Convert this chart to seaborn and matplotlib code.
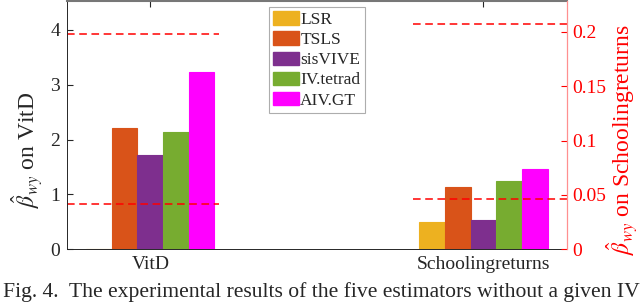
import matplotlib
matplotlib.use("Agg")
import matplotlib.pyplot as plt
from matplotlib.patches import Patch
import seaborn as sns
import pandas as pd

# data
datasets = ["VitD", "Schoolingreturns"]
estimators = ["LSR", "TSLS", "sisVIVE", "IV.tetrad", "AIV.GT"]
colors = ["#EDB120", "#D95319", "#7E2F8E", "#77AC30", "#FF00FF"]
vitd_vals = [0.0, 2.22, 1.71, 2.14, 3.24]
school_vals = [0.025, 0.057, 0.027, 0.063, 0.074]
vitd_bounds = [0.83, 3.92]
school_bounds = [0.046, 0.207]
caption = "Fig. 4.  The experimental results of the five estimators without a given IV"

sns.set_style("white")
plt.rcParams["font.family"] = ["Liberation Serif", "DejaVu Serif"]
plt.rcParams["mathtext.fontset"] = "stix"

df_vitd = pd.DataFrame({"dataset": "VitD", "estimator": estimators, "value": vitd_vals})
df_school = pd.DataFrame({"dataset": "Schoolingreturns", "estimator": estimators, "value": school_vals})

fig = plt.figure(figsize=(6.4, 3.08), dpi=100)
ax = fig.add_axes([67 / 640, 1 - 249.3 / 308, 499.7 / 640, 248.5 / 308])

sns.barplot(data=df_vitd, x="dataset", y="value", hue="estimator", order=datasets,
            hue_order=estimators, palette=colors, width=0.385, saturation=1,
            errorbar=None, legend=False, ax=ax)
ax2 = ax.twinx()
sns.barplot(data=df_school, x="dataset", y="value", hue="estimator", order=datasets,
            hue_order=estimators, palette=colors, width=0.385, saturation=1,
            errorbar=None, legend=False, ax=ax2)
for a in (ax, ax2):
    for p in a.patches:
        p.set_edgecolor(p.get_facecolor())
        p.set_linewidth(0.8)

# dashed reference lines
for v in vitd_bounds:
    ax.plot([-0.25, 0.205], [v, v], color="red", ls="--", lw=1.1, dashes=(5, 3))
for v in school_bounds:
    ax2.plot([0.79, 1.25], [v, v], color="red", ls="--", lw=1.1, dashes=(5, 3))

ax.set_xlim(-0.25, 1.25)
ax.set_ylim(0, 4.53)
ax2.set_ylim(0, 0.2287)
ax.set_yticks([0, 1, 2, 3, 4])
ax2.set_yticks([0, 0.05, 0.1, 0.15, 0.2])
ax2.set_yticklabels(["0", "0.05", "0.1", "0.15", "0.2"])

ax.set_xlabel("")
ax2.set_xlabel("")
ax.tick_params(axis="x", labelsize=14, direction="in", length=4, top=True, pad=5, color="#262626")
ax.tick_params(axis="y", labelsize=14, direction="in", length=4, right=False, pad=5, color="#262626")
ax2.tick_params(axis="y", labelsize=14, direction="in", length=4, colors="red", pad=4)

ax.set_ylabel(r"$\hat{\beta}_{wy}$ on VitD", fontsize=17)
ax.yaxis.set_label_coords(-0.044, 0.40)
ax2.set_ylabel(r"$\hat{\beta}_{wy}$ on Schoolingreturns", fontsize=17, color="red")
ax2.yaxis.set_label_coords(1.076, 0.44)

for s in ("left", "bottom"):
    ax.spines[s].set_color("#262626")
    ax.spines[s].set_linewidth(0.7)
ax.spines["top"].set_color("#777777")
ax.spines["top"].set_linewidth(1.5)
ax.spines["right"].set_visible(False)
for s in ("left", "top", "bottom"):
    ax2.spines[s].set_visible(False)
ax2.spines["right"].set_color("#FF9090")
ax2.spines["right"].set_linewidth(0.9)

handles = [Patch(facecolor=c, edgecolor=c) for c in colors]
leg = ax2.legend(handles, estimators, loc="upper left", bbox_to_anchor=(269 / 640, 1 - 7 / 308),
                 bbox_transform=fig.transFigure, fontsize=12.5, frameon=True, fancybox=False,
                 edgecolor="#999999", borderpad=0.25, labelspacing=0.2, handlelength=1.45,
                 handleheight=0.8, handletextpad=0.1, borderaxespad=0)
leg.get_frame().set_linewidth(0.8)

fig.text(0.004, 0.052, caption, fontsize=15.6, ha="left", va="center")

fig.savefig("out.png", dpi=100)
